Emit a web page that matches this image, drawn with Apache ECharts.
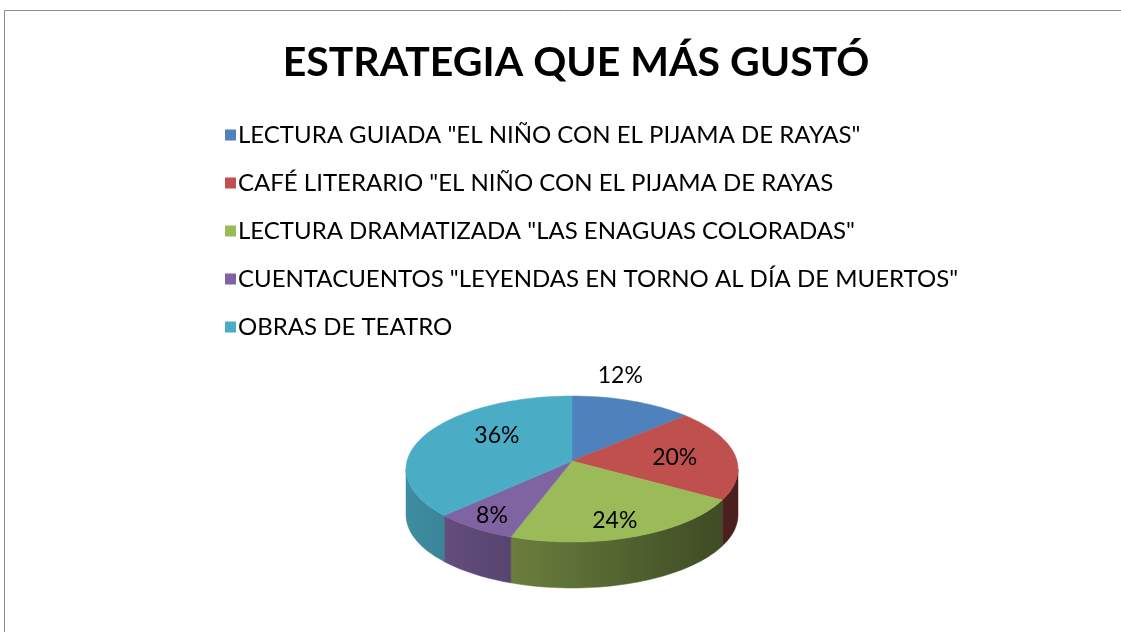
<!DOCTYPE html>
<html>
<head>
<meta charset="utf-8">
<title>Estrategia que más gustó</title>
<script src="https://cdn.jsdelivr.net/npm/echarts@6/dist/echarts.min.js"></script>
<style>
  html, body { margin: 0; padding: 0; background: #fff; }
  #chart { width: 1121px; height: 632px; }
</style>
</head>
<body>
<div id="chart"></div>
<script>
const titleText = 'ESTRATEGIA QUE MÁS GUSTÓ'
const categories = [
  'LECTURA GUIADA "EL NIÑO CON EL PIJAMA DE RAYAS"',
  'CAFÉ LITERARIO "EL NIÑO CON EL PIJAMA DE RAYAS',
  'LECTURA DRAMATIZADA "LAS ENAGUAS COLORADAS"',
  'CUENTACUENTOS "LEYENDAS EN TORNO AL DÍA DE MUERTOS"',
  'OBRAS DE TEATRO'
]
const percents = [12, 20, 24, 8, 36]
const colors = ['#4F81BD', '#C0504D', '#9BBB59', '#8064A2', '#4BACC6']

// tilted pie geometry (Excel style 3D pie)
const CX = 572, CY = 469, RX = 166, RY = 73, DEPTH = 46, APEX_DY = -8
// where each percentage label sits, as a fraction of the way from centre to rim
const labelFactor = [[0.79, 1.43], [0.63, 0.63], [0.7, 0.78], [0.82, 0.82], [0.5, 1.09]]
const FONT = 'Lato, "Open Sans", sans-serif'

const total = percents.reduce((a, b) => a + b, 0)

function darken (hex, k) {
  const c = echarts.color.parse(hex)
  return 'rgb(' + [0, 1, 2].map(i => Math.round(c[i] * (1 - k))).join(',') + ')'
}

function rim (deg, dy) {
  const r = deg * Math.PI / 180
  return [CX + RX * Math.sin(r), CY - RY * Math.cos(r) + (dy || 0)]
}

function arc (a0, a1, dy) {
  const pts = []
  const n = Math.max(2, Math.ceil((a1 - a0) / 2))
  for (let i = 0; i <= n; i++) pts.push(rim(a0 + (a1 - a0) * i / n, dy))
  return pts
}

function renderSlice (idx) {
  return function (params, api) {
    let start = 0
    for (let i = 0; i < idx; i++) start += percents[i]
    const val = api.value(0)
    const a0 = start / total * 360
    const a1 = (start + val) / total * 360
    const color = api.visual('color')
    const children = []
    // front wall, only the part facing the viewer
    const s0 = Math.max(a0, 90), s1 = Math.min(a1, 270)
    if (s1 > s0) {
      const pts = arc(s0, s1, 0).concat(arc(s0, s1, DEPTH).reverse())
      const grad = new echarts.graphic.LinearGradient(CX - RX, 0, CX + RX, 0, [
        { offset: 0, color: darken(color, 0.18) },
        { offset: 1, color: darken(color, 0.62) }
      ], true)
      children.push({ type: 'polygon', shape: { points: pts }, style: { fill: grad, stroke: grad, lineWidth: 0.5 } })
    }
    const apex = [CX, CY + APEX_DY]
    children.push({
      type: 'polygon',
      shape: { points: [apex].concat(arc(a0, a1, 0)) },
      style: { fill: color, stroke: color, lineWidth: 0.5 }
    })
    const p = rim((a0 + a1) / 2, 0)
    const f = labelFactor[idx]
    children.push({
      type: 'text',
      z2: 10,
      style: {
        text: val + '%',
        x: apex[0] + (p[0] - apex[0]) * f[0],
        y: apex[1] + (p[1] - apex[1]) * f[1],
        align: 'center',
        verticalAlign: 'middle',
        font: '23px ' + FONT,
        fill: '#000'
      }
    })
    return { type: 'group', children: children }
  }
}

const chart = echarts.init(document.getElementById('chart'))
chart.setOption({
  animation: false,
  color: colors,
  title: {
    text: titleText,
    left: 571,
    textAlign: 'center',
    top: 37,
    textStyle: { fontFamily: FONT, fontWeight: 'bold', fontSize: 41, color: '#000' }
  },
  legend: {
    orient: 'vertical',
    left: 220,
    top: 118,
    icon: 'rect',
    itemWidth: 11,
    itemHeight: 11,
    itemGap: 24,
    selectedMode: false,
    data: categories,
    textStyle: { fontFamily: FONT, fontSize: 24, color: '#000', padding: [0, 0, 0, -3] }
  },
  graphic: [{
    type: 'rect',
    shape: { x: 4.5, y: 10.5, width: 1200, height: 700 },
    style: { fill: 'none', stroke: '#8c8c8c', lineWidth: 1 },
    silent: true
  }],
  series: categories.map((name, i) => ({
    name: name,
    type: 'custom',
    coordinateSystem: 'none',
    renderItem: renderSlice(i),
    data: [percents[i]]
  }))
})
</script>
</body>
</html>
